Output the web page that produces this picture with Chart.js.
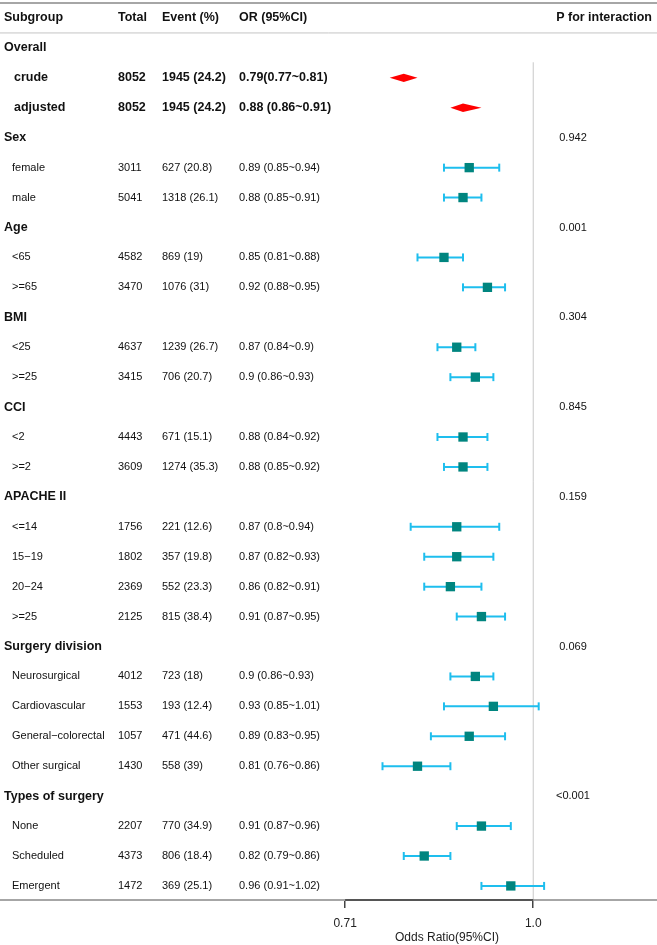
<!DOCTYPE html>
<html>
<head>
<meta charset="utf-8">
<script src="https://cdn.jsdelivr.net/npm/chart.js@4"></script>
<style>
	html, body { margin: 0; padding: 0; background: #fff; }
	#wrap { position: relative; width: 657px; height: 945px; }
</style>
</head>
<body>
<div id="wrap"><canvas id="forest"></canvas></div>
<script>

// one entry per row below the header
const subgroups = [
	'Overall', 'crude', 'adjusted',
	'Sex', 'female', 'male',
	'Age', '<65', '>=65',
	'BMI', '<25', '>=25',
	'CCI', '<2', '>=2',
	'APACHE II', '<=14', '15\u221219', '20\u221224', '>=25',
	'Surgery division', 'Neurosurgical', 'Cardiovascular', 'General\u2212colorectal', 'Other surgical',
	'Types of surgery', 'None', 'Scheduled', 'Emergent'
];

// 'group' = bold heading, 'overall' = bold row with diamond, 'sub' = normal row
const rowKind = [
	'group', 'overall', 'overall',
	'group', 'sub', 'sub',
	'group', 'sub', 'sub',
	'group', 'sub', 'sub',
	'group', 'sub', 'sub',
	'group', 'sub', 'sub', 'sub', 'sub',
	'group', 'sub', 'sub', 'sub', 'sub',
	'group', 'sub', 'sub', 'sub'
];

const totals = [
	'', '8052', '8052',
	'', '3011', '5041',
	'', '4582', '3470',
	'', '4637', '3415',
	'', '4443', '3609',
	'', '1756', '1802', '2369', '2125',
	'', '4012', '1553', '1057', '1430',
	'', '2207', '4373', '1472'
];

const events = [
	'', '1945 (24.2)', '1945 (24.2)',
	'', '627 (20.8)', '1318 (26.1)',
	'', '869 (19)', '1076 (31)',
	'', '1239 (26.7)', '706 (20.7)',
	'', '671 (15.1)', '1274 (35.3)',
	'', '221 (12.6)', '357 (19.8)', '552 (23.3)', '815 (38.4)',
	'', '723 (18)', '193 (12.4)', '471 (44.6)', '558 (39)',
	'', '770 (34.9)', '806 (18.4)', '369 (25.1)'
];

const orLabels = [
	'', '0.79(0.77~0.81)', '0.88 (0.86~0.91)',
	'', '0.89 (0.85~0.94)', '0.88 (0.85~0.91)',
	'', '0.85 (0.81~0.88)', '0.92 (0.88~0.95)',
	'', '0.87 (0.84~0.9)', '0.9 (0.86~0.93)',
	'', '0.88 (0.84~0.92)', '0.88 (0.85~0.92)',
	'', '0.87 (0.8~0.94)', '0.87 (0.82~0.93)', '0.86 (0.82~0.91)', '0.91 (0.87~0.95)',
	'', '0.9 (0.86~0.93)', '0.93 (0.85~1.01)', '0.89 (0.83~0.95)', '0.81 (0.76~0.86)',
	'', '0.91 (0.87~0.96)', '0.82 (0.79~0.86)', '0.96 (0.91~1.02)'
];

const pInteraction = [
	'', '', '',
	'0.942', '', '',
	'0.001', '', '',
	'0.304', '', '',
	'0.845', '', '',
	'0.159', '', '', '', '',
	'0.069', '', '', '', '',
	'<0.001', '', '', ''
];

const oddsRatio = [
	null, 0.79, 0.88,
	null, 0.89, 0.88,
	null, 0.85, 0.92,
	null, 0.87, 0.90,
	null, 0.88, 0.88,
	null, 0.87, 0.87, 0.86, 0.91,
	null, 0.90, 0.93, 0.89, 0.81,
	null, 0.91, 0.82, 0.96
];

const lowerCI = [
	null, 0.77, 0.86,
	null, 0.85, 0.85,
	null, 0.81, 0.88,
	null, 0.84, 0.86,
	null, 0.84, 0.85,
	null, 0.80, 0.82, 0.82, 0.87,
	null, 0.86, 0.85, 0.83, 0.76,
	null, 0.87, 0.79, 0.91
];

const upperCI = [
	null, 0.81, 0.91,
	null, 0.94, 0.91,
	null, 0.88, 0.95,
	null, 0.90, 0.93,
	null, 0.92, 0.92,
	null, 0.94, 0.93, 0.91, 0.95,
	null, 0.93, 1.01, 0.95, 0.86,
	null, 0.96, 0.86, 1.02
];

const headers = [ 'Subgroup', 'Total', 'Event (%)', 'OR (95%CI)', 'P for interaction' ];
const tickValues = [ 0.71, 1.0 ];
const tickLabels = [ '0.71', '1.0' ];

const FONT = "'Liberation Sans', Arial, sans-serif";
const SQUARE = '#00857f';
const WHISKER = '#1ebeee';
const DIAMOND = '#ff0000';
const DIAMOND_HALF = 0.14; // half height of a diamond, in rows

Chart.defaults.font.family = FONT;

const rowOf = i => i + 1; // row 0 is the header

// build datasets from the arrays
const squares = [];
const caps = [];
const whiskers = [];
const diamonds = [];

oddsRatio.forEach( ( v, i ) => {

	if ( v === null ) return;

	const r = rowOf( i );

	if ( rowKind[ i ] === 'overall' ) {

		diamonds.push( [
			{ x: lowerCI[ i ], y: r },
			{ x: v, y: r - DIAMOND_HALF },
			{ x: upperCI[ i ], y: r },
			{ x: v, y: r + DIAMOND_HALF }
		] );
		return;

	}

	squares.push( { x: v, y: r } );
	caps.push( { x: lowerCI[ i ], y: r }, { x: upperCI[ i ], y: r } );
	whiskers.push( { x: lowerCI[ i ], y: r }, { x: upperCI[ i ], y: r }, { x: null, y: null } );

} );

const datasets = [
	{
		data: squares,
		pointStyle: 'rect',
		pointRadius: 6.6,
		backgroundColor: SQUARE,
		borderColor: SQUARE,
		borderWidth: 0
	},
	{
		data: caps,
		pointStyle: 'line',
		rotation: 90,
		pointRadius: 4,
		borderColor: WHISKER,
		borderWidth: 2
	},
	{
		data: whiskers,
		showLine: true,
		spanGaps: false,
		pointRadius: 0,
		borderColor: WHISKER,
		borderWidth: 2
	}
];

diamonds.forEach( d => datasets.push( {
	data: d,
	showLine: true,
	fill: 'shape',
	pointRadius: 0,
	borderWidth: 0,
	borderColor: DIAMOND,
	backgroundColor: DIAMOND
} ) );

// table text, frame lines and the reference line
const tablePlugin = {

	id: 'forestTable',

	beforeDatasetsDraw ( chart ) {

		const ctx = chart.ctx;
		const xs = chart.scales.x;
		const ys = chart.scales.y;
		const area = chart.chartArea;
		const w = chart.width;

		ctx.save();

		// reference line at OR = 1
		const x1 = xs.getPixelForValue( 1 );
		ctx.strokeStyle = '#c8c8c8';
		ctx.lineWidth = 1;
		ctx.beginPath();
		ctx.moveTo( x1, ys.getPixelForValue( 1.48 ) );
		ctx.lineTo( x1, area.bottom );
		ctx.stroke();

		// frame lines
		ctx.strokeStyle = '#a6a6a6';
		ctx.lineWidth = 2;
		ctx.beginPath();
		ctx.moveTo( 0, ys.getPixelForValue( -0.5 ) );
		ctx.lineTo( w, ys.getPixelForValue( -0.5 ) );
		ctx.moveTo( 0, area.bottom );
		ctx.lineTo( w, area.bottom );
		ctx.stroke();

		ctx.strokeStyle = '#c4c4c4';
		ctx.lineWidth = 1;
		ctx.beginPath();
		ctx.moveTo( 0, ys.getPixelForValue( 0.5 ) );
		ctx.lineTo( w, ys.getPixelForValue( 0.5 ) );
		ctx.stroke();

		// axis segment between the ticks
		ctx.strokeStyle = '#555';
		ctx.lineWidth = 2;
		ctx.beginPath();
		ctx.moveTo( xs.getPixelForValue( tickValues[ 0 ] ), area.bottom );
		ctx.lineTo( xs.getPixelForValue( tickValues[ tickValues.length - 1 ] ), area.bottom );
		ctx.stroke();

		ctx.restore();

	},

	afterDraw ( chart ) {

		const ctx = chart.ctx;
		const ys = chart.scales.y;
		const bold = "bold 12.5px " + FONT;
		const normal = "11px " + FONT;
		const cols = [ 118, 162, 239 ];

		ctx.save();
		ctx.textBaseline = 'middle';
		ctx.fillStyle = '#111';

		const hy = ys.getPixelForValue( 0 );
		ctx.font = bold;
		ctx.textAlign = 'left';
		ctx.fillText( headers[ 0 ], 4, hy );
		ctx.fillText( headers[ 1 ], cols[ 0 ], hy );
		ctx.fillText( headers[ 2 ], cols[ 1 ], hy );
		ctx.fillText( headers[ 3 ], cols[ 2 ], hy );
		ctx.textAlign = 'right';
		ctx.fillText( headers[ 4 ], 652, hy );

		subgroups.forEach( ( label, i ) => {

			const py = ys.getPixelForValue( rowOf( i ) );
			const kind = rowKind[ i ];

			ctx.textAlign = 'left';

			if ( kind === 'group' ) {

				ctx.font = bold;
				ctx.fillText( label, 4, py );

			} else {

				ctx.font = kind === 'overall' ? bold : normal;
				ctx.fillText( label, kind === 'overall' ? 14 : 12, py );
				ctx.fillText( totals[ i ], cols[ 0 ], py );
				ctx.fillText( events[ i ], cols[ 1 ], py );
				ctx.fillText( orLabels[ i ], cols[ 2 ], py );

			}

			if ( pInteraction[ i ] ) {

				ctx.font = normal;
				ctx.textAlign = 'center';
				ctx.fillText( pInteraction[ i ], 573, py );

			}

		} );

		ctx.restore();

	}

};

new Chart( document.getElementById( 'forest' ), {
	type: 'scatter',
	data: { datasets },
	options: {
		responsive: true,
		maintainAspectRatio: false,
		animation: false,
		layout: {
			autoPadding: false,
			padding: { left: 300, right: 63, top: 0, bottom: 0 }
		},
		plugins: {
			legend: { display: false },
			tooltip: { enabled: false }
		},
		scales: {
			x: {
				type: 'logarithmic',
				min: 0.654,
				max: 1.117,
				afterBuildTicks: s => { s.ticks = tickValues.map( v => ( { value: v } ) ); },
				afterFit: s => { s.height = 45; },
				ticks: {
					callback: ( v, i ) => tickLabels[ i ],
					autoSkip: false,
					maxRotation: 0,
					padding: 8,
					color: '#222',
					font: { size: 12 }
				},
				grid: {
					display: true,
					drawOnChartArea: false,
					drawTicks: true,
					tickLength: 8,
					color: '#444',
					lineWidth: 1.5
				},
				border: { display: false },
				title: {
					display: true,
					text: 'Odds Ratio(95%CI)',
					color: '#222',
					font: { size: 12 },
					padding: { top: 0, bottom: 0 }
				}
			},
			y: {
				type: 'linear',
				reverse: true,
				min: -0.601,
				max: 29.47,
				display: false
			}
		}
	},
	plugins: [ tablePlugin ]
} );

</script>
</body>
</html>
